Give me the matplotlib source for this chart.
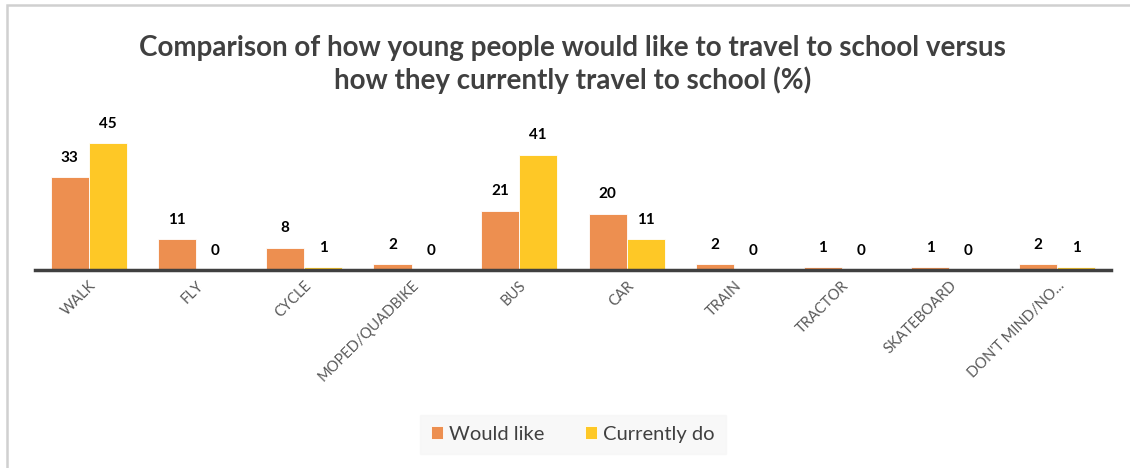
import numpy as np
import matplotlib
matplotlib.use('Agg')
from matplotlib import pyplot
from matplotlib.patches import Rectangle

CATEGORIES = ['WALK', 'FLY', 'CYCLE', 'MOPED/QUADBIKE', 'BUS', 'CAR', 'TRAIN',
              'TRACTOR', 'SKATEBOARD', "DON'T MIND/NO..."]
WOULD_LIKE = [33, 11, 8, 2, 21, 20, 2, 1, 1, 2]
CURRENTLY_DO = [45, 0, 1, 0, 41, 11, 0, 0, 0, 1]
SERIES_NAMES = ['Would like', 'Currently do']
TITLE = ('Comparison of how young people would like to travel to school versus\n'
         'how they currently travel to school (%)')

ORANGE = '#ED8F50'
YELLOW = '#FEC826'
TEXT_GREY = '#404040'
TICK_GREY = '#595959'
BAR_WIDTH = 0.355

pyplot.rcParams['font.family'] = ['Lato', 'DejaVu Sans']

fig = pyplot.figure(figsize=(11.3, 4.68), dpi=100)
ax = fig.add_axes([0.031, 0.423, 0.952, 0.331])

x = np.arange(len(CATEGORIES))
bars_like = ax.bar(x - BAR_WIDTH / 2, WOULD_LIKE, BAR_WIDTH, color=ORANGE,
                   edgecolor='white', linewidth=0.6, label=SERIES_NAMES[0])
bars_now = ax.bar(x + BAR_WIDTH / 2, CURRENTLY_DO, BAR_WIDTH, color=YELLOW,
                  edgecolor='white', linewidth=0.6, label=SERIES_NAMES[1])

for bars in (bars_like, bars_now):
    for rect in bars:
        h = rect.get_height()
        ax.annotate('%d' % h, (rect.get_x() + rect.get_width() / 2, h),
                    xytext=(0, 14), textcoords='offset points',
                    ha='center', va='center', fontsize=11,
                    fontweight='bold', color='black')

ax.set_xlim(-0.5, len(CATEGORIES) - 0.5)
ax.set_ylim(0, 55)
ax.set_yticks([])
for side in ('top', 'right', 'left'):
    ax.spines[side].set_visible(False)
ax.spines['bottom'].set_color('#404040')
ax.spines['bottom'].set_linewidth(2.5)
ax.tick_params(axis='x', length=0, pad=6)
ax.set_xticks(x)
ax.set_xticklabels(CATEGORIES, rotation=45, ha='right', rotation_mode='anchor',
                   fontsize=10.5, color=TICK_GREY)

fig.text(0.507, 0.862, TITLE, ha='center', va='center', fontsize=20,
         fontweight='bold', color=TEXT_GREY, linespacing=1.25)

leg = fig.legend(loc='center', bbox_to_anchor=(0.507, 0.072), ncol=2,
                 frameon=True, fancybox=False, fontsize=14.5,
                 handlelength=0.6, handleheight=0.6, handletextpad=0.3,
                 columnspacing=2.0, borderpad=0.55)
leg.get_frame().set_facecolor('#F7F7F7')
leg.get_frame().set_edgecolor('#F7F7F7')
for t in leg.get_texts():
    t.set_color(TEXT_GREY)

# chart border, open at the right and bottom
fig.patches.append(Rectangle((7 / 1130, -0.2), 1.2, 1.2 - 5 / 468,
                             transform=fig.transFigure, fill=False,
                             edgecolor='#D0D0D0', linewidth=1.8))

fig.savefig('out.png', dpi=100)
